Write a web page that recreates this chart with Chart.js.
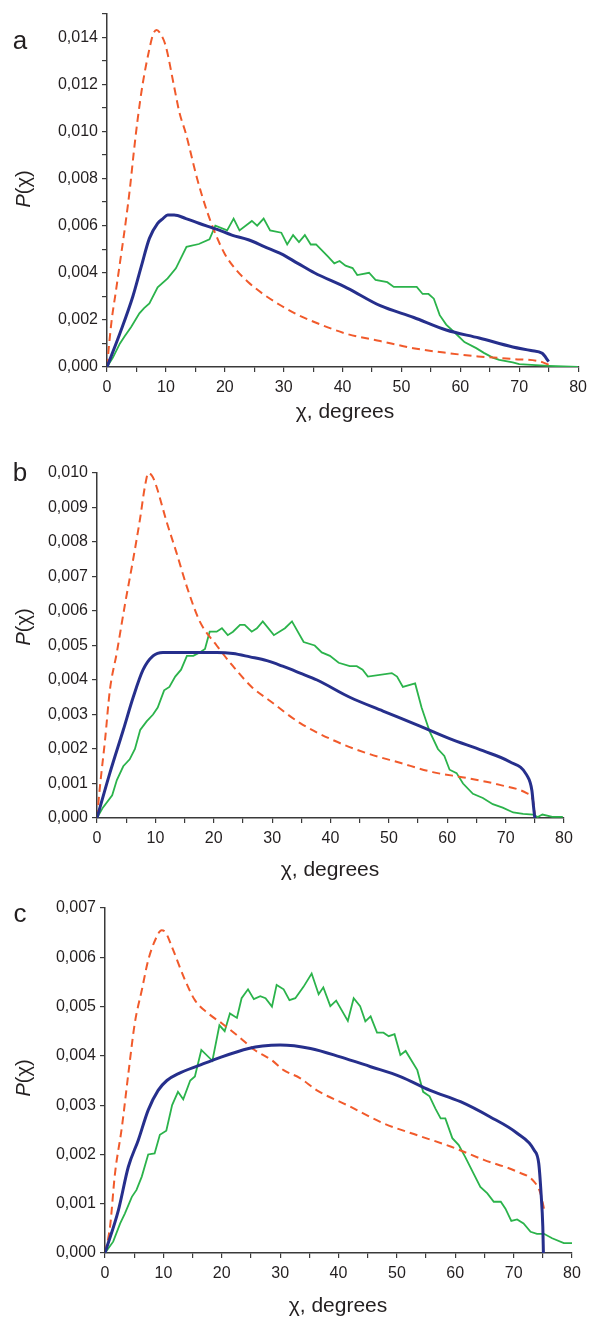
<!DOCTYPE html>
<html><head><meta charset="utf-8">
<script src="https://cdn.jsdelivr.net/npm/chart.js@4/dist/chart.umd.min.js"></script>
<style>
body{margin:0;background:#fff;width:593px;height:1318px;position:relative;overflow:hidden;font-family:'Liberation Sans',Arial,sans-serif;color:#231f20}
.wrap{position:absolute;left:0;width:593px}
.lbl{position:absolute;white-space:nowrap;line-height:1;transform:translate(-50%,-50%)}
.letter{font-size:26px}
.ytitle{font-size:20px;transform:translate(-50%,-50%) rotate(-90deg)}
.xtitle{font-size:21px}
</style></head>
<body>
<div class="lbl letter" style="left:20px;top:40px">a</div>
<div class="lbl ytitle" style="left:23px;top:189px"><i>P</i>(χ)</div>
<div class="lbl xtitle" style="left:345px;top:410px">χ, degrees</div>
<div class="lbl letter" style="left:20px;top:472px">b</div>
<div class="lbl ytitle" style="left:23px;top:627px"><i>P</i>(χ)</div>
<div class="lbl xtitle" style="left:330px;top:868px">χ, degrees</div>
<div class="lbl letter" style="left:20px;top:913px">c</div>
<div class="lbl ytitle" style="left:23px;top:1078px"><i>P</i>(χ)</div>
<div class="lbl xtitle" style="left:338px;top:1304px">χ, degrees</div>
<script>
// ---- DATA: [chi (degrees), P(chi)] ----
const xTicks = [0,10,20,30,40,50,60,70,80];

const aRed = [[0,0],[0.22,0.0006],[0.8,0.002],[1.5,0.0032],[2.3,0.0046],[3.2,0.0062],[3.9,0.0076],[4.5,0.009],[5.2,0.0105],[6.05,0.012],[7.2,0.0135],[7.8,0.0141],[8.4,0.0143],[9.2,0.0141],[10,0.0136],[11.4,0.0119],[12.3,0.0108],[13.4,0.0099],[15.3,0.008],[17,0.0066],[18.5,0.0056],[20,0.0048],[22,0.0041],[24,0.0036],[26.5,0.0031],[29.6,0.0026],[32.5,0.0022],[35.3,0.0019],[40.8,0.0014],[46.4,0.0011],[52,0.0008],[57.6,0.0006],[63,0.00045],[69,0.00034],[73.3,0.00025],[75,0.0001]];
const aBlue = [[0,0],[2.2,0.00143],[4.4,0.003],[5.8,0.00425],[7.2,0.00546],[8.6,0.0061],[9.5,0.0063],[10.3,0.00645],[11.4,0.00645],[13.4,0.0063],[15.6,0.0061],[18.7,0.00584],[21.2,0.0056],[24,0.0054],[26.8,0.0051],[29.6,0.0048],[32.4,0.0044],[35.2,0.0040],[40.8,0.00335],[46.4,0.0026],[52.1,0.0021],[57.6,0.00157],[63.2,0.00123],[68.9,0.00085],[72,0.0007],[73.9,0.00058],[75,0.00023]];
const aGreen = [[0,0],[1,0.0004],[2.2,0.001],[3,0.0013],[4.1,0.0017],[5.5,0.00228],[6.3,0.0025],[7.2,0.0027],[8.6,0.00338],[10.3,0.00376],[11.7,0.00419],[13.5,0.0051],[15.6,0.00522],[17.4,0.00542],[18.4,0.006],[20.4,0.0058],[21.5,0.0063],[22.5,0.0058],[24.6,0.0062],[25.5,0.0060],[26.6,0.0063],[27.7,0.0058],[29.6,0.0057],[30.6,0.0052],[31.6,0.0056],[32.6,0.0053],[33.6,0.0056],[34.6,0.0052],[35.5,0.0052],[37.5,0.0047],[38.6,0.0044],[39.5,0.0045],[40.5,0.0043],[41.7,0.0042],[42.5,0.0039],[44.5,0.0040],[45.6,0.0037],[47.6,0.0036],[48.7,0.0034],[50.6,0.0034],[52.6,0.0034],[53.6,0.0031],[54.6,0.0031],[55.5,0.0029],[56.5,0.0022],[57.6,0.0018],[59.3,0.0014],[60.7,0.00106],[62.7,0.0008],[64,0.0006],[65.5,0.0004],[66.6,0.0003],[68.9,0.0002],[70,0.00012],[72.8,0.00008],[75,0.00005],[80,0]];

const bRed = [[0,0],[0.5,0.0009],[1.4,0.0023],[2.2,0.0037],[3.4,0.0048],[4.8,0.0062],[6.2,0.0075],[7.4,0.0087],[8.2,0.0096],[8.8,0.0100],[9.5,0.0099],[10.2,0.0096],[11.9,0.0086],[13.6,0.0077],[15.4,0.0067],[17.6,0.0057],[20.5,0.0050],[23.3,0.0044],[26.5,0.0038],[29.6,0.0034],[34.8,0.00275],[40.4,0.00226],[46.2,0.00188],[51.9,0.0016],[57.5,0.00133],[63.4,0.00116],[69,0.00096],[73.6,0.00072],[74.7,0.0005],[75,0.0001]];
const bBlue = [[0,0],[2.2,0.0013],[4.5,0.00255],[6.2,0.0035],[7.9,0.0043],[9.6,0.0047],[11.3,0.0048],[17.6,0.0048],[20.5,0.0048],[23.3,0.00477],[26.2,0.00467],[29.1,0.00456],[31.8,0.0044],[34.8,0.0042],[37.7,0.0040],[43.3,0.0035],[49,0.0031],[54.8,0.0027],[60.4,0.0023],[66.1,0.00195],[70.7,0.00163],[73.6,0.00125],[74.5,0.0008],[74.8,0.0003],[75,0]];
const bGreen = [[0,0],[1,0.0003],[2.6,0.00066],[3.4,0.0011],[4.5,0.0015],[5.6,0.0017],[6.5,0.002],[7.4,0.00255],[8.5,0.0028],[9.6,0.003],[10.4,0.0032],[11.5,0.0037],[12.4,0.0038],[13.4,0.0041],[14.4,0.0043],[15.4,0.0047],[16.5,0.0047],[17.6,0.0048],[18.5,0.0049],[19.3,0.0054],[20.5,0.0054],[21.4,0.0055],[22.4,0.0053],[23.3,0.0054],[24.5,0.0056],[25.3,0.0056],[26.5,0.0054],[27.4,0.0055],[28.4,0.0057],[30.3,0.0053],[32.2,0.0055],[33.4,0.0057],[35.4,0.0051],[37.3,0.0050],[38.5,0.0048],[39.9,0.0047],[41.4,0.0045],[43.3,0.0044],[44.5,0.0044],[45.5,0.0043],[46.4,0.0041],[50.5,0.0042],[51.4,0.0041],[52.4,0.0038],[54.5,0.0039],[55.6,0.0032],[57,0.0025],[58.4,0.0020],[59.5,0.0018],[60.4,0.0014],[61.6,0.0013],[62.7,0.0010],[64.4,0.0007],[66.1,0.00058],[67.8,0.0004],[69.5,0.0003],[71.3,0.00016],[73,0.00012],[74.7,0.0001],[75.5,0.00003],[76.3,0.0001],[78,0.00003],[79.8,0.00003]];

const cRed = [[0,0],[0.86,0.00053],[1.7,0.0016],[2.9,0.00256],[4,0.00364],[5.1,0.00466],[6.3,0.00533],[7.4,0.00594],[8.6,0.00635],[9.7,0.00655],[10.4,0.0065],[11.5,0.0062],[13.7,0.00554],[15.4,0.00513],[17.7,0.00486],[20,0.00466],[22.9,0.00439],[25.5,0.00413],[28.6,0.00391],[30.6,0.00371],[33.4,0.00355],[36.3,0.0033],[42,0.00297],[47.7,0.00263],[53.5,0.00239],[59.2,0.00216],[64.9,0.00189],[70.6,0.00165],[73.5,0.00145],[74.6,0.00121],[75.2,0.0009]];
const cBlue = [[0,0],[2.3,0.00087],[4.0,0.00175],[5.7,0.00229],[7.4,0.0029],[9.1,0.0033],[10.6,0.0035],[12.6,0.00364],[16,0.0038],[20,0.00398],[24.6,0.00415],[27,0.0042],[30,0.00422],[35.2,0.00415],[40.3,0.00398],[45.5,0.00378],[50.6,0.00358],[55.7,0.0033],[60.9,0.00307],[66,0.00276],[70.6,0.00243],[73.5,0.00209],[74.3,0.00182],[74.7,0.00121],[75,0.00053],[75.1,0]];
const cGreen = [[0,0],[1.4,0.00023],[2.6,0.0006],[3.4,0.0008],[4.6,0.00114],[5.4,0.00128],[6.3,0.00155],[7.4,0.002],[8.5,0.00202],[9.4,0.0024],[10.5,0.00248],[11.5,0.003],[12.5,0.00327],[13.4,0.00312],[14.6,0.0035],[15.4,0.00358],[16.5,0.00412],[18.4,0.0039],[19.6,0.00462],[20.5,0.0045],[21.4,0.00486],[22.6,0.00477],[23.4,0.00517],[24.5,0.00535],[25.5,0.00515],[26.6,0.00521],[27.5,0.00517],[28.6,0.005],[29.4,0.00544],[30.6,0.00535],[31.6,0.00513],[32.6,0.00517],[34,0.0054],[35.4,0.00567],[36.6,0.00525],[37.4,0.00539],[38.6,0.00501],[39.6,0.00512],[41.6,0.00471],[42.6,0.00517],[43.7,0.00501],[44.6,0.0047],[45.5,0.0048],[46.6,0.00447],[47.7,0.00447],[48.6,0.0044],[49.6,0.00444],[50.6,0.00402],[51.5,0.0041],[53.5,0.00371],[54.5,0.00327],[55.6,0.00318],[56.6,0.00293],[57.5,0.00273],[58.3,0.00273],[59.5,0.00233],[60.6,0.00219],[61.7,0.00195],[63.1,0.00162],[64.3,0.00134],[65.5,0.00121],[66.6,0.00104],[67.8,0.00104],[68.6,0.0009],[69.6,0.00065],[70.6,0.00068],[71.7,0.0006],[72.9,0.00043],[74,0.00039],[75.2,0.00039],[76.6,0.0003],[78.6,0.0002],[80,0.0002]];

// ---- STYLE ----
const RED = '#f15a2b', BLUE = '#262f8c', GREEN = '#2bb34b', AX = '#3a3a3a', TXT = '#231f20';
const FONT = "'Liberation Sans', Arial, sans-serif";

function toXY(arr){ return arr.map(p => ({x:p[0], y:p[1]})); }

function makePanel(top, height, padTop, padRight, yAxisW, xAxisH, yMax, labelEvery, blue, red, green){
  const wrap = document.createElement('div');
  wrap.className = 'wrap';
  wrap.style.top = top + 'px';
  wrap.style.height = height + 'px';
  const cv = document.createElement('canvas');
  cv.width = 593; cv.height = height;
  cv.style.width = '593px'; cv.style.height = height + 'px';
  wrap.appendChild(cv);
  document.body.insertBefore(wrap, document.body.firstChild);
  new Chart(cv.getContext('2d'), {
    type: 'scatter',
    data: { datasets: [
      {data: toXY(blue), borderColor: BLUE, borderWidth: 3, showLine: true, pointRadius: 0, cubicInterpolationMode: 'monotone'},
      {data: toXY(red), borderColor: RED, borderWidth: 2, borderDash: [8,5], showLine: true, pointRadius: 0, cubicInterpolationMode: 'monotone'},
      {data: toXY(green), borderColor: GREEN, borderWidth: 1.8, showLine: true, pointRadius: 0, tension: 0}
    ]},
    options: {
      responsive: false, animation: false, devicePixelRatio: 1,
      layout: {padding: {top: padTop, right: padRight, left: 0, bottom: 0}},
      plugins: {legend: {display: false}, tooltip: {enabled: false}},
      scales: {
        x: {
          type: 'linear', min: 0, max: 80,
          afterFit: s => { s.height = xAxisH; },
          border: {display: true, color: AX, width: 1.5},
          grid: {display: true, drawOnChartArea: false, drawTicks: true, tickLength: 5, color: AX, lineWidth: 1.2},
          ticks: {stepSize: 5, autoSkip: false, maxRotation: 0, padding: 6, color: TXT, font: {size: 16, family: FONT},
            callback: v => xTicks.includes(v) ? String(v) : ''}
        },
        y: {
          type: 'linear', min: 0, max: yMax,
          afterFit: s => { s.width = yAxisW; },
          border: {display: true, color: AX, width: 1.5},
          grid: {display: true, drawOnChartArea: false, drawTicks: true, tickLength: 5, color: AX, lineWidth: 1.2},
          ticks: {stepSize: 0.001, autoSkip: false, padding: 4, color: TXT, font: {size: 16, family: FONT},
            callback: v => { const k = Math.round(v*1000); return k % labelEvery === 0 ? (k/1000).toFixed(3).replace('.', ',') : ''; }}
        }
      }
    }
  });
}

makePanel(880, 438, 28, 21, 105, 65, 0.007, 1, cBlue, cRed, cGreen);
makePanel(440, 440, 33, 29, 97, 62, 0.010, 1, bBlue, bRed, bGreen);
makePanel(0, 430, 13, 10, 107, 63, 0.015, 2, aBlue, aRed, aGreen);
</script>
</body></html>
